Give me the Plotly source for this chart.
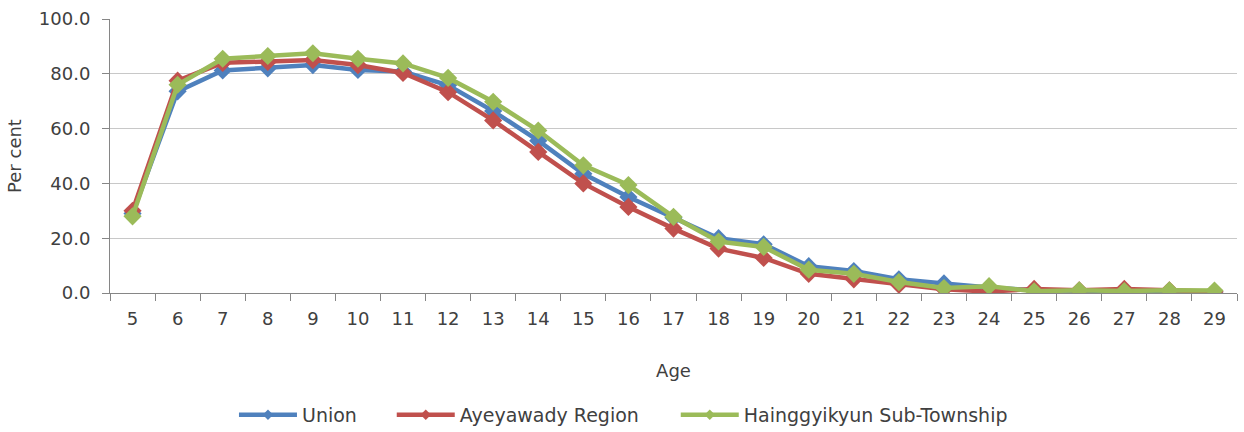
import plotly.graph_objects as go

ages = [str(a) for a in range(5, 30)]

union = [29.0, 73.6, 81.2, 82.0, 83.2, 81.4, 80.8, 75.8, 66.4, 55.6, 43.5, 35.0, 27.5, 20.0, 17.8,
         9.8, 8.0, 5.0, 3.5, 2.0, 1.0, 0.8, 0.6, 0.5, 0.4]
ayeyawady = [30.0, 77.5, 84.0, 84.3, 85.0, 83.2, 80.3, 73.3, 63.0, 51.5, 40.0, 31.4, 23.5, 16.2, 12.8,
             7.0, 5.0, 3.0, 1.4, 0.5, 1.5, 1.0, 1.5, 1.0, 0.5]
hainggyikyun = [28.0, 76.0, 85.5, 86.5, 87.5, 85.5, 83.8, 78.5, 69.8, 59.3, 46.6, 39.4, 27.8, 18.8, 16.8,
                8.5, 7.0, 4.0, 1.8, 2.5, 0.6, 1.0, 0.7, 1.0, 0.9]

series = [
    ("Union", union, "#4F81BD"),
    ("Ayeyawady Region", ayeyawady, "#C0504D"),
    ("Hainggyikyun Sub-Township", hainggyikyun, "#9BBB59"),
]

FONT = "DejaVu Sans, Liberation Sans, Arial, sans-serif"
TXT = "#404040"
FS = 18
FS_LEG = 19

# one legend box per series so each key sits at its own spot on the bottom row
legend_ids = ["legend", "legend2", "legend3"]
legend_x = [0.110, 0.250, 0.502]

fig = go.Figure()
for name, vals, color in series:
    # data lines with large diamond markers
    fig.add_trace(go.Scatter(
        x=ages, y=vals, name=name, mode="lines+markers", showlegend=False,
        line=dict(color=color, width=4.5),
        marker=dict(symbol="diamond", size=14, color=color),
    ))
for (name, vals, color), lid in zip(series, legend_ids):
    # legend keys: long line with a small diamond
    fig.add_trace(go.Scatter(
        x=[None], y=[None], name=name, mode="lines+markers", legend=lid,
        line=dict(color=color, width=4.5),
        marker=dict(symbol="diamond", size=8, color=color),
    ))

legend_common = dict(orientation="h", xanchor="left", y=-0.445, yanchor="middle",
                     font=dict(family=FONT, size=FS_LEG, color=TXT), itemwidth=58,
                     bgcolor="rgba(0,0,0,0)")

fig.update_layout(
    width=1244, height=432,
    margin=dict(l=110, r=7, t=19, b=139, autoexpand=False),
    paper_bgcolor="white", plot_bgcolor="white",
    font=dict(family=FONT, size=FS, color=TXT),
    showlegend=True,
    legend=dict(x=legend_x[0], **legend_common),
    legend2=dict(x=legend_x[1], **legend_common),
    legend3=dict(x=legend_x[2], **legend_common),
    xaxis=dict(
        type="category", range=[-0.5, 24.5], automargin=False,
        showline=True, linecolor="#868686", linewidth=1,
        ticks="outside", tickson="boundaries", ticklen=7, tickcolor="#868686",
        ticklabelstandoff=9,
        showgrid=False,
        title=dict(text="Age", standoff=36, font=dict(family=FONT, size=FS, color=TXT)),
        tickfont=dict(family=FONT, size=FS, color=TXT),
    ),
    yaxis=dict(
        range=[0, 100], dtick=20, tickformat=".1f", automargin=False,
        showline=True, linecolor="#868686", linewidth=1,
        ticks="outside", ticklen=7, tickcolor="#868686",
        ticklabelstandoff=8,
        showgrid=True, gridcolor="#C8C8C8", gridwidth=1,
        zeroline=False,
        title=dict(text="Per cent", standoff=12, font=dict(family=FONT, size=FS, color=TXT)),
        tickfont=dict(family=FONT, size=FS, color=TXT),
    ),
)

fig.write_html("out.html")
